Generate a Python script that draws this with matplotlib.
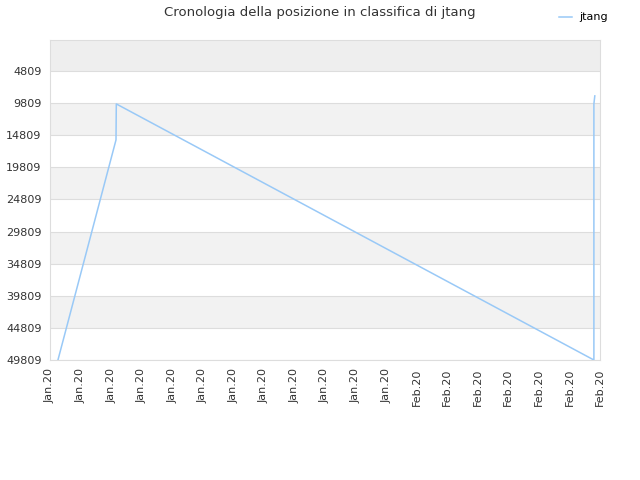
import matplotlib
matplotlib.use("Agg")
import matplotlib.pyplot as plt

# tick labels along the x axis (one per slot)
x_labels = ["Jan.20"] * 12 + ["Feb.20"] * 7
y_ticks = [4809, 9809, 14809, 19809, 24809, 29809, 34809, 39809, 44809, 49809]

# ranking history, x given in tick slots
pos_x = [0.26, 2.16, 2.17, 17.8, 17.8, 17.83]
rank = [49809, 15550, 9950, 49809, 9950, 8700]

fig = plt.figure(figsize=(6.4, 4.8), dpi=100)
ax = fig.add_axes([50 / 640, 120 / 480, 550 / 640, 320 / 480])

ymin, ymax = 0, 49809
ax.set_xlim(0, len(x_labels) - 1)
ax.set_ylim(ymax, ymin)

# alternating bands
edges = [ymin] + y_ticks
for i in range(len(edges) - 1):
    if i == 0:
        c = "#eeeeee"
    elif i % 2 == 0:
        c = "#f2f2f2"
    else:
        c = "#ffffff"
    ax.axhspan(edges[i], edges[i + 1], color=c, zorder=0, lw=0)

ax.plot(pos_x, rank, color="#99c9f7", lw=1.1, label="jtang", zorder=3)

ax.set_yticks(y_ticks)
ax.set_yticklabels([str(v) for v in y_ticks])
ax.set_xticks(range(len(x_labels)))
ax.set_xticklabels(x_labels, rotation=90)
ax.tick_params(length=0, labelsize=8, colors="#333333", pad=6)
ax.yaxis.grid(True, color="#dddddd", lw=0.8)
ax.set_axisbelow(True)
for s in ax.spines.values():
    s.set_color("#dddddd")

fig.suptitle("Cronologia della posizione in classifica di jtang",
             x=0.5, y=0.988, fontsize=9.5, color="#333333")
fig.legend(loc="upper right", bbox_to_anchor=(0.965, 0.995), frameon=False,
           fontsize=8, handlelength=1.2, handletextpad=0.6)

fig.savefig("out.png", dpi=100)
